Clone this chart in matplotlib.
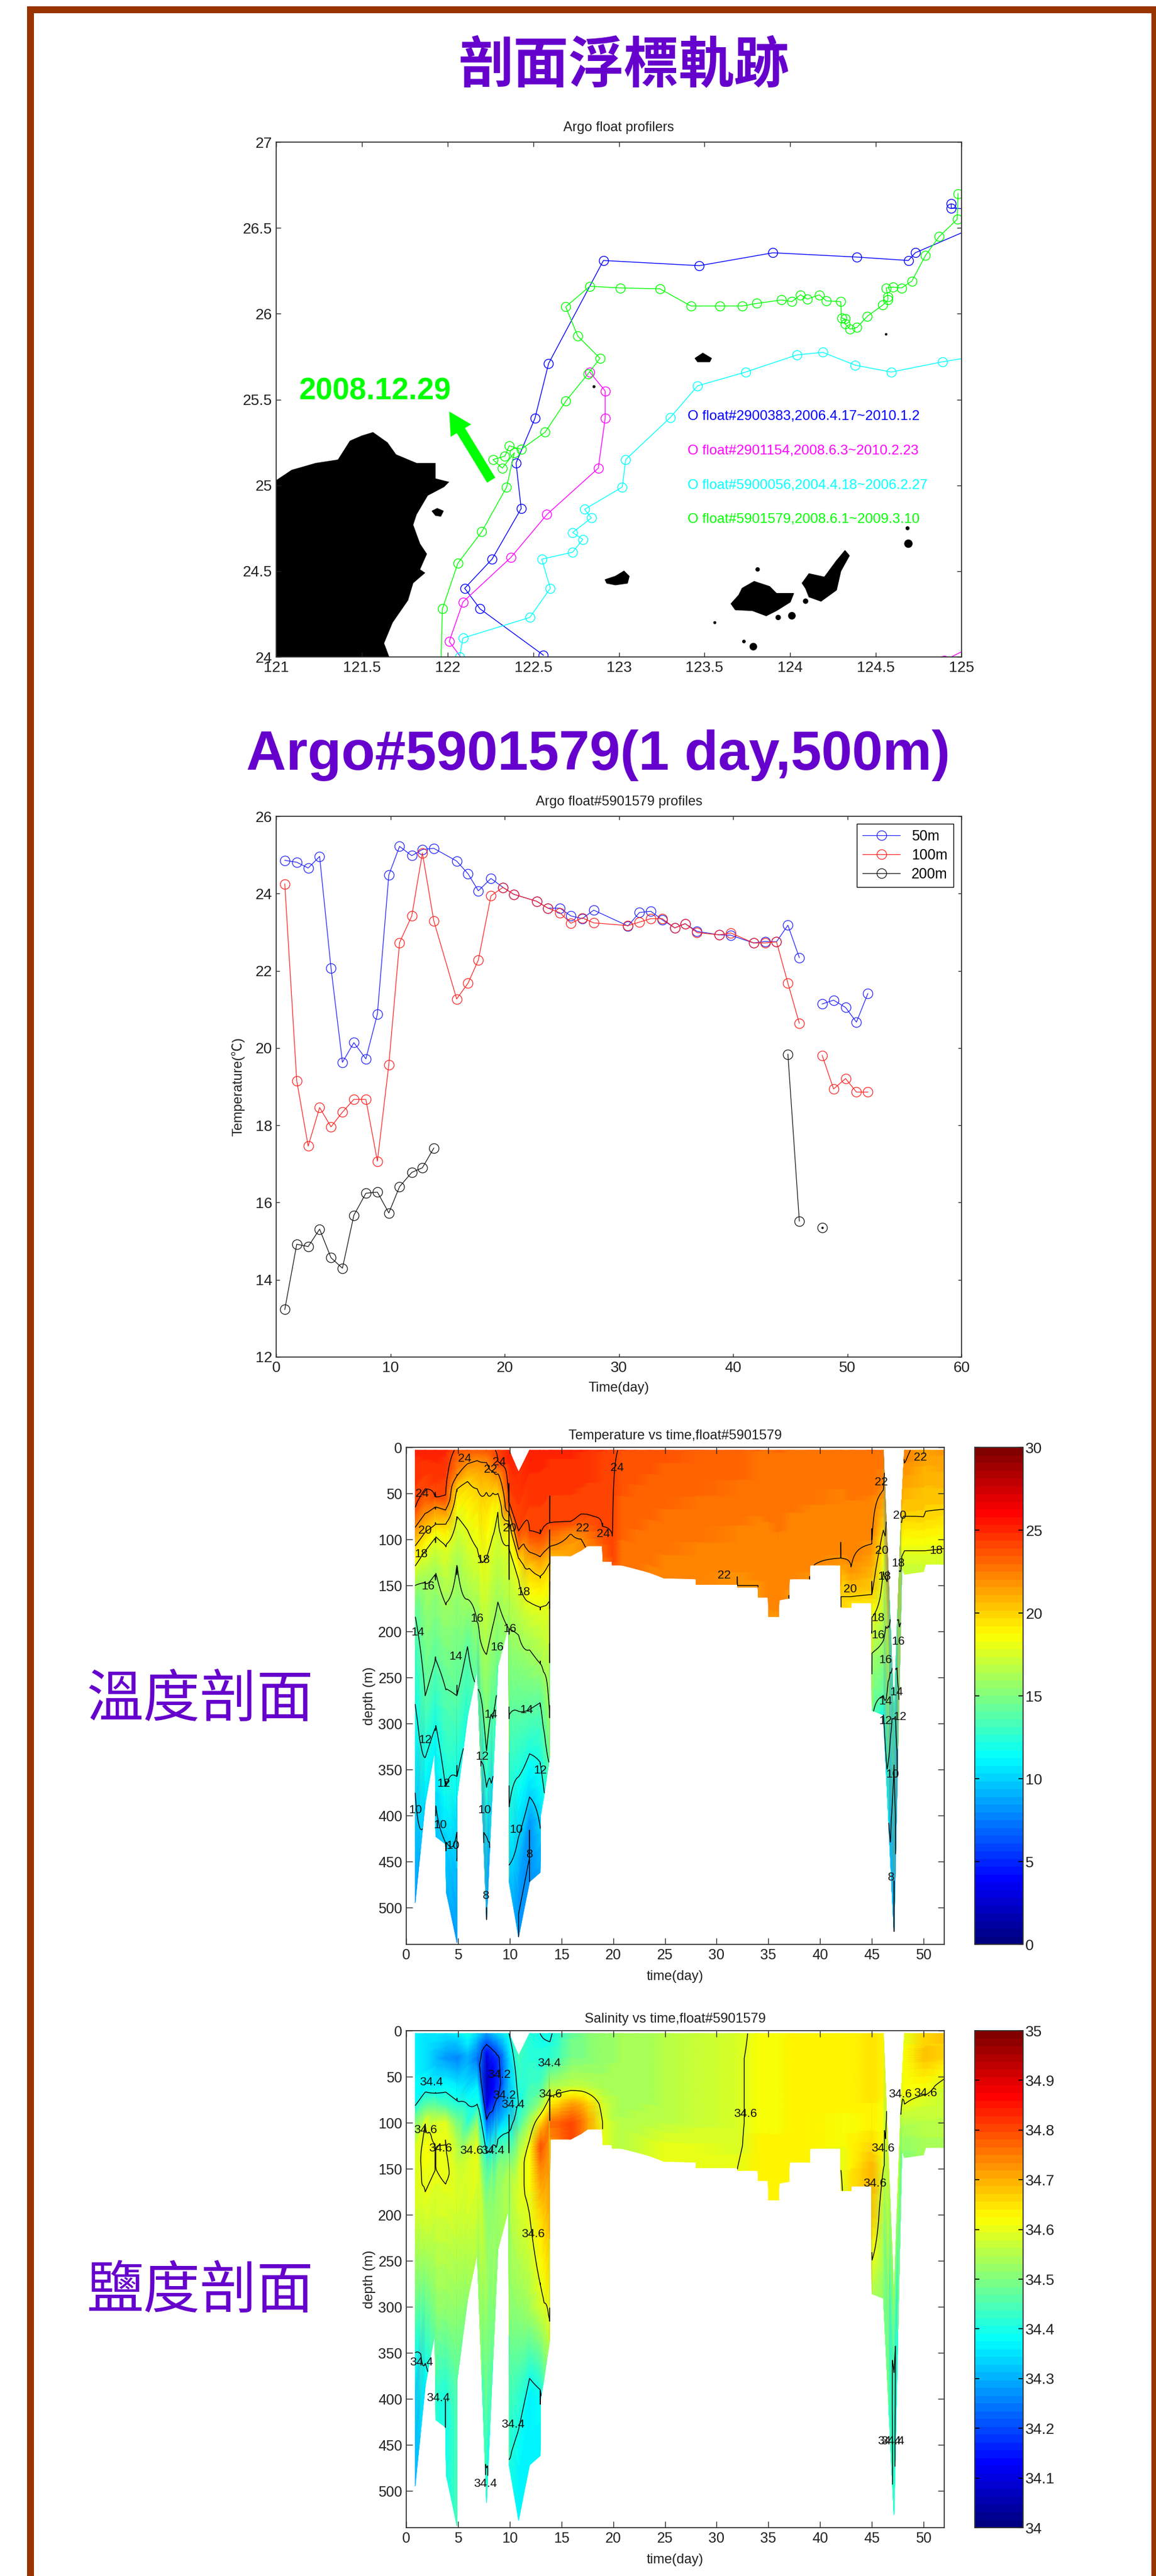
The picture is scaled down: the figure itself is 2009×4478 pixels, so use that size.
import numpy as np
import matplotlib
matplotlib.use("Agg")
import matplotlib.pyplot as plt
from matplotlib.patches import Rectangle
from matplotlib.cm import ScalarMappable
from matplotlib.colors import Normalize, LinearSegmentedColormap

plt.rcParams['font.family'] = ['Liberation Sans', 'Noto Sans CJK TC', 'DejaVu Sans']

W, H = 2009, 4478
N = np.nan
PURPLE = '#6600cc'
FRAME = '#993300'
SPINE = '#333333'

# ---- float tracks (lon, lat)
blue_lon = [122.56, 122.19, 122.10, 122.26, 122.43, 122.40, 122.51, 122.59, 122.91, 123.47, 123.90, 124.39, 124.69, 124.73, 125.30, 124.94, 124.94]
blue_lat = [24.01, 24.28, 24.40, 24.57, 24.865, 25.13, 25.39, 25.71, 26.31, 26.28, 26.355, 26.33, 26.31, 26.355, 26.60, 26.615, 26.64]
magenta_lon = [122.15, 122.01, 122.09, 122.37, 122.58, 122.88, 122.92, 122.92, 122.83, N, 124.90, 125.10]
magenta_lat = [23.90, 24.09, 24.32, 24.58, 24.83, 25.10, 25.39, 25.55, 25.66, N, 23.98, 24.08]
cyan_lon = [122.07, 122.09, 122.48, 122.60, 122.55, 122.73, 122.79, 122.73, 122.84, 122.80, 123.02, 123.04, 123.30, 123.46, 123.74, 124.04, 124.19, 124.38, 124.59, 124.89, 125.20]
cyan_lat = [24.00, 24.11, 24.23, 24.40, 24.57, 24.61, 24.685, 24.725, 24.81, 24.86, 24.99, 25.15, 25.395, 25.58, 25.66, 25.76, 25.775, 25.70, 25.66, 25.72, 25.77]
green_lon = [121.96, 121.97, 122.06, 122.20, 122.345, 122.39, 122.32, 122.265, 122.335, 122.36, 122.43, 122.57, 122.69, 122.82, 122.89, 122.76, 122.69, 122.83, 123.01, 123.24, 123.42, 123.59, 123.72, 123.805, 123.95, 124.01, 124.06, 124.10, 124.17, 124.21, 124.295, 124.30, 124.32, 124.32, 124.35, 124.39, 124.45, 124.54, 124.57, 124.57, 124.56, 124.60, 124.65, 124.71, 124.79, 124.87, 124.975, 124.98]
green_lat = [23.90, 24.28, 24.545, 24.73, 24.99, 25.19, 25.10, 25.15, 25.17, 25.23, 25.21, 25.31, 25.49, 25.65, 25.74, 25.87, 26.04, 26.16, 26.15, 26.145, 26.045, 26.045, 26.045, 26.06, 26.08, 26.07, 26.11, 26.085, 26.11, 26.075, 26.07, 25.975, 25.97, 25.94, 25.91, 25.92, 25.985, 26.05, 26.08, 26.10, 26.15, 26.155, 26.15, 26.19, 26.34, 26.45, 26.55, 26.70]
float_labels = ['O float#2900383,2006.4.17~2010.1.2', 'O float#2901154,2008.6.3~2010.2.23',
                'O float#5900056,2004.4.18~2006.2.27', 'O float#5901579,2008.6.1~2009.3.10']
float_colors = ['#0000ff', '#ff00ff', '#00ffff', '#00ff00']
label_lat = [25.40, 25.20, 25.00, 24.80]

# ---- land
taiwan_lon = [121.00, 121.09, 121.23, 121.36, 121.43, 121.50, 121.565, 121.65, 121.70, 121.82, 121.93, 121.93, 122.01, 121.98, 121.885, 121.82, 121.80, 121.84, 121.88, 121.84, 121.87, 121.80, 121.77, 121.68, 121.63, 121.66, 121.00]
taiwan_lat = [25.03, 25.09, 25.13, 25.15, 25.26, 25.29, 25.31, 25.25, 25.18, 25.13, 25.13, 25.04, 25.02, 24.99, 24.94, 24.83, 24.77, 24.66, 24.60, 24.51, 24.49, 24.43, 24.33, 24.20, 24.08, 24.00, 24.00]
islands = [
    ([121.91, 121.94, 121.975, 121.96, 121.93], [24.85, 24.865, 24.85, 24.82, 24.825]),
    ([123.445, 123.49, 123.54, 123.53, 123.46], [25.74, 25.77, 25.74, 25.72, 25.72]),
    ([122.92, 122.98, 123.03, 123.06, 123.05, 122.98, 122.93], [24.45, 24.47, 24.50, 24.47, 24.43, 24.42, 24.43]),
    ([123.655, 123.70, 123.72, 123.79, 123.88, 123.92, 124.02, 124.00, 123.92, 123.86, 123.78, 123.68], [24.31, 24.36, 24.40, 24.44, 24.41, 24.37, 24.37, 24.32, 24.27, 24.24, 24.27, 24.275]),
    ([124.07, 124.11, 124.20, 124.27, 124.32, 124.345, 124.295, 124.27, 124.18, 124.11, 124.09], [24.43, 24.485, 24.465, 24.56, 24.62, 24.59, 24.50, 24.39, 24.325, 24.35, 24.40]),
]
islet_lon = [123.81, 124.09, 123.93, 124.01, 123.56, 123.73, 123.785, 124.56, 124.685, 124.69, 122.855]
islet_lat = [24.51, 24.325, 24.23, 24.24, 24.20, 24.09, 24.06, 25.88, 24.75, 24.66, 25.575]
islet_size = [30, 45, 45, 90, 14, 20, 90, 10, 25, 110, 14]

# ---- time series at 50/100/200 m
days = [0.75, 1.8, 2.8, 3.8, 4.8, 5.8, 6.8, 7.85, 8.86, 9.86, 10.8, 11.87, 12.8, 13.8, 15.8, 16.8, 17.7, 18.8, 19.85, 20.8, 22.8, 23.8, 24.85, 25.8, 26.8, 27.8, 30.8, 31.8, 32.8, 33.8, 34.9, 35.8, 36.85, 38.8, 39.8, 41.8, 42.8, 43.8, 44.8, 45.8, 46.8, 47.8, 48.8, 49.85, 50.8, 51.8]
t50 = [24.86, 24.81, 24.66, 24.96, 22.07, 19.63, 20.14, 19.72, 20.88, 24.48, 25.22, 24.98, 25.14, 25.17, 24.84, 24.51, 24.07, 24.39, 24.16, 23.98, 23.80, 23.62, 23.62, 23.42, 23.35, 23.57, 23.16, 23.51, 23.54, 23.32, 23.11, 23.22, 23.02, 22.93, 22.92, 22.72, 22.76, 22.75, 23.18, 22.34, N, 21.14, 21.24, 21.05, 20.67, 21.41]
t100 = [24.25, 19.15, 17.46, 18.46, 17.96, 18.34, 18.67, 18.67, 17.07, 19.57, 22.73, 23.42, 25.05, 23.29, 21.27, 21.68, 22.28, 23.94, 24.16, 23.98, 23.80, 23.62, 23.50, 23.23, 23.37, 23.24, 23.17, 23.26, 23.35, 23.35, 23.11, 23.22, 22.99, 22.93, 22.98, 22.72, 22.72, 22.75, 21.68, 20.64, N, 19.81, 18.94, 19.21, 18.86, 18.86]
t200 = [13.23, 14.92, 14.86, 15.31, 14.57, 14.30, 15.67, 16.24, 16.27, 15.73, 16.41, 16.78, 16.90, 17.41, N, N, N, N, N, N, N, N, N, N, N, N, N, N, N, N, N, N, N, N, N, N, N, N, 19.84, 15.52, N, 15.35, N, N, N, N]
depth_names = ['50m', '100m', '200m']
depth_colors = ['#2020ff', '#ff2020', '#111111']

# ---- section outline: day, shallowest and deepest sample drawn
edge_days = [0.86, 1.84, 2.78, 2.86, 3.8, 3.88, 4.9, 4.92, 5.92, 6.86, 7.76, 8.37, 8.86, 9.92, 9.94, 10.86, 11.92, 12.94, 12.96, 13.27, 13.86, 13.88, 15.9, 16.9, 17.55, 18.98, 19.0, 19.9, 19.92, 20.8, 22.2, 23.5, 24.9, 28.0, 28.02, 32.0, 32.02, 34.0, 34.02, 35.0, 35.02, 36.0, 36.02, 37.0, 37.02, 39.0, 39.02, 42.0, 42.02, 43.0, 43.02, 45.0, 45.02, 46.12, 47.14, 47.9, 48.16, 50.0, 50.2, 52.0]
edge_top = [3, 3, 3, 3, 3, 3, 3, 3, 3, 3, 3, 3, 3, 3, 3, 27, 3, 3, 3, 3, 3, 3, 3, 3, 3, 3, 3, 3, 3, 3, 3, 3, 3, 3, 3, 3, 3, 3, 3, 3, 3, 3, 3, 3, 3, 3, 3, 3, 3, 3, 3, 3, 3, 3, 290, 58, 3, 3, 3, 3]
edge_bot = [495, 386, 328, 423, 431, 484, 538, 380, 293, 242, 513, 361, 238, 193, 472, 532, 472, 462, 402, 382, 337, 118, 118, 112, 107, 107, 124, 124, 128, 128, 132, 136, 142, 143, 149, 149, 152, 152, 163, 163, 184, 184, 166, 164, 143, 143, 128, 128, 174, 174, 169, 169, 286, 291, 526, 130, 138, 135, 127, 127]

prof_days = [0.86, 1.84, 2.86, 3.8, 4.9, 5.92, 6.86, 7.76, 8.86, 9.92, 10.86, 11.92, 12.94, 13.88, 15.9, 17.0, 18.98, 20.0, 20.8, 24.9, 32.0, 34.0, 35.0, 36.0, 37.0, 39.0, 42.0, 43.0, 45.0, 46.12, 47.14, 48.16, 49.0, 50.0, 51.0, 52.0]

# ---- temperature: surface value, then depth of each isotherm per profile
surf_temp = [25.0, 25.2, 25.2, 25.0, 23.9, 23.8, 23.7, 23.8, 24.2, 25.2, 25.2, 25.2, 25.2, 25.0, 25.0, 24.9, 24.4, 24.1, 23.95, 23.6, 23.3, 23.0, 22.9, 23.0, 22.9, 22.9, 22.8, 22.9, 23.0, 23.0, 23.0, 22.3, 21.9, 21.5, 21.6, 21.8]
iso_levels = [24, 22, 20, 18, 16, 14, 12, 10, 8]
iso_table = [
    [66, 87, 107, 129, 150, 183, 279, 375, 520],
    [46, 72, 92, 112, 147, 270, 337, 406, 540],
    [56, 64, 84, 96, 136, 231, 302, 389, 540],
    [54, 68, 83, 106, 170, 262, 369, 429, 560],
    [N, 32, 45, 75, 127, 270, 358, 417, 560],
    [N, 18, 36, 90, 165, 216, 318, 400, 560],
    [N, 14, 45, 110, 190, 260, 300, 390, 560],
    [N, 16, 48, 120, 225, 330, 369, 423, 496],
    [18, 28, 50, 70, 168, 277, 342, 420, 520],
    [62, 70, 79, 106, 197, 291, 392, 454, 540],
    [93, 112, 120, 143, 204, 287, 358, 423, 504],
    [93, 114, 131, 168, 220, 285, 333, 380, 414],
    [95, 119, 140, 173, 235, 277, 342, 412, 488],
    [84, 108, 125, 166, 296, 346, 420, 480, 540],
    [83, 93, 150, 200, N, N, N, N, N],
    [74, 100, 160, 200, N, N, N, N, N],
    [88, 150, 200, N, N, N, N, N, N],
    [125, 200, N, N, N, N, N, N, N],
    [N, 200, N, N, N, N, N, N, N],
    [N, 170, N, N, N, N, N, N, N],
    [N, 139, N, N, N, N, N, N, N],
    [N, 150, N, N, N, N, N, N, N],
    [N, 183, N, N, N, N, N, N, N],
    [N, 185, N, N, N, N, N, N, N],
    [N, 160, N, N, N, N, N, N, N],
    [N, 140, N, N, N, N, N, N, N],
    [N, 122, 147, N, N, N, N, N, N],
    [N, 130, 162, 200, N, N, N, N, N],
    [N, 105, 160, 185, 223, 300, N, N, N],
    [N, 47, 90, 135, 210, 270, 290, 400, 500],
    [N, 50, 100, 130, 160, 200, 295, 345, 470],
    [N, 18, 75, 112, 160, N, N, N, N],
    [N, N, 79, 114, 160, N, N, N, N],
    [N, N, 76, 112, 160, N, N, N, N],
    [N, N, 55, 112, 160, N, N, N, N],
    [N, N, 68, 110, 160, N, N, N, N],
]
temp_labels = [
    ('24', 5.63, 12), ('24', 8.98, 16), ('22', 8.16, 24), ('24', 20.4, 22), ('24', 1.51, 50), ('20', 1.84, 90),
    ('18', 1.43, 116), ('16', 2.12, 151), ('14', 1.1, 201), ('22', 17.06, 88), ('24', 19.06, 94), ('20', 10.0, 88),
    ('18', 7.47, 122), ('18', 11.35, 157), ('16', 6.86, 186), ('16', 10.0, 197), ('16', 8.78, 217), ('14', 4.78, 227),
    ('14', 8.16, 290), ('14', 11.63, 285), ('12', 1.84, 318), ('12', 7.35, 336), ('12', 3.59, 365), ('12', 12.98, 351),
    ('10', 0.9, 394), ('10', 3.3, 410), ('10', 4.49, 433), ('10', 7.55, 394), ('10', 10.6, 415), ('8', 11.92, 442),
    ('8', 7.67, 487), ('22', 30.7, 139), ('22', 45.9, 38), ('20', 46.0, 112), ('18', 46.2, 140), ('20', 42.94, 154),
    ('18', 45.6, 185), ('16', 45.6, 204), ('16', 46.3, 231), ('14', 46.3, 276), ('12', 46.3, 297), ('14', 47.4, 266),
    ('12', 47.7, 293), ('16', 47.55, 211), ('18', 47.55, 126), ('20', 47.67, 74), ('22', 49.67, 11), ('18', 51.2, 112),
    ('10', 47.0, 355), ('8', 46.8, 467),
]

# ---- salinity at fixed depths per profile
sal_depths = [3, 30, 60, 80, 100, 125, 150, 200, 300, 400, 500]
sal_table = [
    [34.37, 34.36, 34.38, 34.39, 34.52, 34.58, 34.59, 34.58, 34.48, 34.32, 34.30],
    [34.35, 34.35, 34.37, 34.46, 34.60, 34.61, 34.61, 34.59, 34.48, 34.35, 34.32],
    [34.36, 34.31, 34.36, 34.46, 34.59, 34.60, 34.60, 34.58, 34.52, 34.42, 34.40],
    [34.35, 34.28, 34.38, 34.44, 34.60, 34.60, 34.61, 34.58, 34.52, 34.40, 34.40],
    [34.36, 34.26, 34.36, 34.41, 34.50, 34.56, 34.58, 34.58, 34.52, 34.45, 34.44],
    [34.40, 34.30, 34.34, 34.40, 34.42, 34.56, 34.59, 34.58, 34.52, 34.48, 34.45],
    [34.34, 34.24, 34.36, 34.40, 34.52, 34.60, 34.60, 34.58, 34.53, 34.48, 34.46],
    [34.28, 34.10, 34.07, 34.10, 34.22, 34.36, 34.48, 34.52, 34.52, 34.46, 34.38],
    [34.34, 34.18, 34.16, 34.22, 34.30, 34.44, 34.52, 34.52, 34.52, 34.46, 34.42],
    [34.40, 34.34, 34.32, 34.30, 34.36, 34.46, 34.55, 34.55, 34.52, 34.44, 34.38],
    [34.44, 34.44, 34.42, 34.40, 34.44, 34.54, 34.58, 34.58, 34.52, 34.42, 34.36],
    [34.42, 34.42, 34.44, 34.46, 34.54, 34.62, 34.62, 34.60, 34.54, 34.36, 34.36],
    [34.40, 34.41, 34.44, 34.52, 34.66, 34.80, 34.74, 34.66, 34.58, 34.38, 34.36],
    [34.39, 34.42, 34.54, 34.64, 34.76, 34.72, 34.72, 34.70, 34.62, 34.50, 34.50],
    [34.48, 34.50, 34.56, 34.72, 34.80, 34.80, 34.80, 34.80, 34.80, 34.80, 34.80],
    [34.50, 34.50, 34.56, 34.70, 34.76, 34.76, 34.76, 34.76, 34.76, 34.76, 34.76],
    [34.52, 34.52, 34.54, 34.58, 34.60, 34.60, 34.60, 34.60, 34.60, 34.60, 34.60],
    [34.53, 34.53, 34.54, 34.55, 34.56, 34.57, 34.57, 34.57, 34.57, 34.57, 34.57],
    [34.54, 34.54, 34.54, 34.54, 34.55, 34.56, 34.56, 34.56, 34.56, 34.56, 34.56],
    [34.55, 34.55, 34.55, 34.55, 34.56, 34.60, 34.60, 34.60, 34.60, 34.60, 34.60],
    [34.58, 34.59, 34.59, 34.59, 34.59, 34.59, 34.60, 34.60, 34.60, 34.60, 34.60],
    [34.62, 34.62, 34.62, 34.62, 34.62, 34.63, 34.64, 34.64, 34.64, 34.64, 34.64],
    [34.62, 34.62, 34.62, 34.62, 34.62, 34.63, 34.64, 34.64, 34.64, 34.64, 34.64],
    [34.62, 34.62, 34.62, 34.62, 34.62, 34.63, 34.64, 34.64, 34.64, 34.64, 34.64],
    [34.63, 34.63, 34.63, 34.63, 34.63, 34.63, 34.63, 34.63, 34.63, 34.63, 34.63],
    [34.64, 34.64, 34.64, 34.64, 34.63, 34.63, 34.63, 34.63, 34.63, 34.63, 34.63],
    [34.64, 34.64, 34.64, 34.63, 34.62, 34.61, 34.60, 34.58, 34.58, 34.58, 34.58],
    [34.64, 34.64, 34.64, 34.63, 34.62, 34.63, 34.64, 34.66, 34.66, 34.66, 34.66],
    [34.65, 34.65, 34.65, 34.64, 34.63, 34.66, 34.70, 34.68, 34.52, 34.50, 34.50],
    [34.64, 34.64, 34.64, 34.62, 34.62, 34.62, 34.60, 34.55, 34.52, 34.45, 34.42],
    [34.60, 34.60, 34.60, 34.60, 34.58, 34.58, 34.56, 34.54, 34.50, 34.36, 34.38],
    [34.60, 34.62, 34.62, 34.60, 34.55, 34.52, 34.50, 34.50, 34.50, 34.50, 34.50],
    [34.62, 34.64, 34.62, 34.60, 34.56, 34.53, 34.50, 34.50, 34.50, 34.50, 34.50],
    [34.66, 34.68, 34.62, 34.58, 34.56, 34.54, 34.52, 34.52, 34.52, 34.52, 34.52],
    [34.68, 34.68, 34.62, 34.58, 34.56, 34.54, 34.52, 34.52, 34.52, 34.52, 34.52],
    [34.68, 34.66, 34.58, 34.57, 34.56, 34.54, 34.52, 34.52, 34.52, 34.52, 34.52],
]
sal_labels = [
    ('34.4', 2.45, 56), ('34.2', 8.98, 48), ('34.4', 13.8, 35), ('34.6', 13.96, 69), ('34.2', 9.5, 70), ('34.4', 10.3, 80),
    ('34.6', 1.84, 108), ('34.6', 3.3, 128), ('34.6', 6.3, 130), ('34.4', 8.4, 130), ('34.6', 32.8, 90), ('34.6', 46.1, 128),
    ('34.6', 45.3, 166), ('34.6', 47.76, 69), ('34.6', 50.2, 68), ('34.6', 12.24, 221), ('34.4', 1.47, 360), ('34.4', 3.1, 399),
    ('34.4', 10.3, 428), ('34.4', 7.63, 492), ('34.4', 46.7, 446), ('34.4', 47.0, 446),
]

fig = plt.figure(figsize=(W / 100, H / 100), dpi=100, facecolor='white')


def px_axes(left, top, right, bottom):
    return fig.add_axes([left / W, 1 - bottom / H, (right - left) / W, (bottom - top) / H])


def style_axes(ax, tick_len=6, size=19):
    for s in ax.spines.values():
        s.set_color(SPINE)
        s.set_linewidth(1.3)
    ax.tick_params(direction='in', top=True, right=True, length=tick_len, width=1.0,
                   labelsize=size, color='#222222', labelcolor='#222222', pad=5)


# page frame and headings
for x, y, w, h in [(47, 11, 12, H - 11), (2001, 11, 8, H - 11), (47, 11, 1962, 12)]:
    fig.add_artist(Rectangle((x / W, 1 - (y + h) / H), w / W, h / H, transform=fig.transFigure,
                             facecolor=FRAME, edgecolor='none'))
fig.text(1084 / W, 1 - 114 / H, '剖面浮標軌跡', color=PURPLE, fontsize=69, fontweight='bold',
         family=['Noto Sans CJK TC'], ha='center', va='center')
fig.text(1040 / W, 1 - 1338 / H, 'Argo#5901579(1 day,500m)', color=PURPLE, fontsize=69, fontweight='bold',
         family=['Liberation Sans'], ha='center', va='baseline')
fig.text(347 / W, 1 - 2956 / H, '溫度剖面', color=PURPLE, fontsize=71, family=['Noto Sans CJK TC'], ha='center', va='center')
fig.text(347 / W, 1 - 3984 / H, '鹽度剖面', color=PURPLE, fontsize=71, family=['Noto Sans CJK TC'], ha='center', va='center')

# ---- map
ax = px_axes(480, 247, 1671, 1142)
ax.fill(taiwan_lon, taiwan_lat, color='black', lw=0)
for lon, lat in islands:
    ax.fill(lon, lat, color='black', lw=1)
ax.scatter(islet_lon, islet_lat, s=islet_size, c='black', linewidths=0)
tracks = [(blue_lon, blue_lat), (magenta_lon, magenta_lat), (cyan_lon, cyan_lat), (green_lon, green_lat)]
for (lon, lat), col in zip(tracks, float_colors):
    ax.plot(lon, lat, '-o', color=col, lw=1.0, ms=11.5, mfc='none', mew=1.0)
for name, col, lat in zip(float_labels, float_colors, label_lat):
    ax.text(123.40, lat, name, color=col, fontsize=17.5, va='center')
ax.annotate('', xy=(122.01, 25.43), xytext=(122.255, 25.03),
            arrowprops=dict(facecolor='#00ff00', edgecolor='none', width=12, headwidth=30, headlength=28, shrink=0))
ax.text(121.13, 25.50, '2008.12.29', color='#00ff00', fontsize=38, fontweight='bold', va='baseline')
ax.set_xlim(121, 125)
ax.set_ylim(24, 27)
ax.set_xticks(np.arange(121, 125.1, 0.5))
ax.set_xticklabels(['121', '121.5', '122', '122.5', '123', '123.5', '124', '124.5', '125'])
ax.set_yticks(np.arange(24, 27.1, 0.5))
ax.set_yticklabels(['24', '24.5', '25', '25.5', '26', '26.5', '27'])
style_axes(ax)
ax.set_title('Argo float profilers', fontsize=17, color='#222222', pad=14)

# ---- temperature series
ax = px_axes(480, 1419, 1671, 2359)
for vals, name, col in zip([t50, t100, t200], depth_names, depth_colors):
    ax.plot(days, vals, '-o', color=col, lw=0.9, ms=12, mfc='none', mew=0.9, label=name)
ax.plot(days[41], t200[41], '.', color='#111111', ms=4)
ax.set_xlim(0, 60)
ax.set_ylim(12, 26)
ax.set_xticks(np.arange(0, 61, 10))
ax.set_yticks(np.arange(12, 27, 2))
style_axes(ax, tick_len=4)
ax.set_title('Argo float#5901579 profiles', fontsize=17, color='#222222', pad=14)
ax.set_xlabel('Time(day)', fontsize=17, color='#222222', labelpad=9)
ax.set_ylabel('Temperature(℃)', fontsize=17, color='#222222', labelpad=13)
leg = ax.legend(loc='upper right', bbox_to_anchor=(0.988, 0.986), borderaxespad=0, fontsize=18, fancybox=False,
                framealpha=1, edgecolor='black', labelspacing=0.35, handlelength=2.6, borderpad=0.4)
leg.get_frame().set_linewidth(1.0)

# ---- sections, the figures use the MATLAB flavour of jet (yellow at 5/8, red at 7/8)
jet64 = LinearSegmentedColormap.from_list(
    'matlab_jet',
    [(0, (0, 0, 0.5)), (1 / 8, (0, 0, 1)), (3 / 8, (0, 1, 1)), (5 / 8, (1, 1, 0)), (7 / 8, (1, 0, 0)), (1, (0.5, 0, 0))],
    N=64)


def draw_section(ax, z, table, vmin, vmax, levels, labels):
    table = np.array(table, dtype=float)
    cols = np.array(edge_days, dtype=float)
    # time interpolation of each depth row onto the outline columns
    by_col = np.array([np.interp(cols, prof_days, table[:, k]) for k in range(len(z))])
    frac = np.linspace(0, 1, 160)
    X = np.tile(cols, (len(frac), 1))
    Y = np.outer(frac, np.array(edge_bot, dtype=float) - np.array(edge_top, dtype=float)) + np.array(edge_top, dtype=float)
    C = np.column_stack([np.interp(Y[:, j], z, by_col[:, j]) for j in range(len(cols))])
    ax.pcolormesh(X, Y, C, shading='gouraud', cmap=jet64, vmin=vmin, vmax=vmax, rasterized=True)
    ax.contour(X, Y, C, levels=levels, colors='black', linewidths=1.0)
    for txt, d, dep in labels:
        ax.text(d, dep, txt, fontsize=15, color='#111111', ha='center', va='center')
    ax.set_xlim(0, 52)
    ax.set_ylim(540, 0)
    ax.set_xticks(np.arange(0, 51, 5))
    ax.set_yticks(np.arange(0, 501, 50))
    style_axes(ax, tick_len=8, size=18)
    ax.set_xlabel('time(day)', fontsize=17, color='#222222', labelpad=10)
    ax.set_ylabel('depth (m)', fontsize=17, color='#222222', labelpad=3)


def draw_bar(top, bottom, vmin, vmax, ticks, ticklabels):
    cax = px_axes(1694, top, 1778, bottom)
    cb = fig.colorbar(ScalarMappable(Normalize(vmin, vmax), jet64), cax=cax, ticks=ticks)
    cb.set_ticklabels(ticklabels)
    cb.outline.set_edgecolor(SPINE)
    cb.outline.set_linewidth(1.3)
    cax.tick_params(direction='in', left=True, right=True, length=6, width=1.2, labelsize=19, color='black',
                    labelcolor='#222222', pad=3)


# temperature columns: surface value followed by isotherm depths
z_fine = np.arange(0, 601, 5.0)
temp_rows = []
for surf, row in zip(surf_temp, iso_table):
    zz = [0.0] + [d for d in row if not np.isnan(d)]
    tt = [surf] + [lev for lev, d in zip(iso_levels, row) if not np.isnan(d)]
    temp_rows.append(np.interp(z_fine, zz, tt))

ax = px_axes(706, 2516, 1641, 3380)
draw_section(ax, z_fine, temp_rows, 0, 30, iso_levels[::-1], temp_labels)
ax.set_title('Temperature vs time,float#5901579', fontsize=17, color='#222222', pad=10)
draw_bar(2516, 3380, 0, 30, [0, 5, 10, 15, 20, 25, 30], ['0', '5', '10', '15', '20', '25', '30'])

ax = px_axes(706, 3530, 1641, 4394)
draw_section(ax, sal_depths, sal_table, 34, 35, [34.2, 34.4, 34.6], sal_labels)
ax.set_title('Salinity vs time,float#5901579', fontsize=17, color='#222222', pad=10)
sal_ticks = [34, 34.1, 34.2, 34.3, 34.4, 34.5, 34.6, 34.7, 34.8, 34.9, 35]
draw_bar(3530, 4394, 34, 35, sal_ticks, ['34', '34.1', '34.2', '34.3', '34.4', '34.5', '34.6', '34.7', '34.8', '34.9', '35'])

fig.savefig('out.png', dpi=100, facecolor='white')
